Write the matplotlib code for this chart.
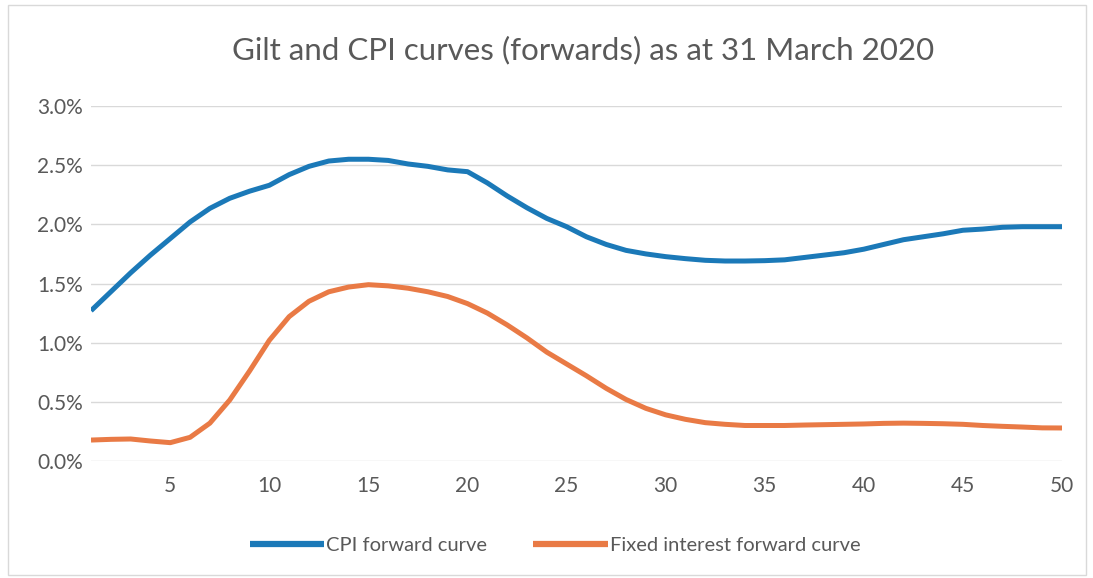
import numpy as np
import matplotlib.pyplot as plt
from matplotlib.patches import Rectangle
from matplotlib.ticker import FuncFormatter

# Maturity (years) 1..50
years = list(range(1, 51))

# CPI forward curve (%)
cpi_forward = [1.27, 1.43, 1.59, 1.74, 1.88, 2.02, 2.135, 2.22, 2.28, 2.33,
               2.42, 2.49, 2.535, 2.55, 2.55, 2.54, 2.51, 2.49, 2.46, 2.445,
               2.35, 2.24, 2.14, 2.05, 1.98, 1.895, 1.83, 1.78, 1.75, 1.727,
               1.71, 1.696, 1.69, 1.69, 1.693, 1.70, 1.72, 1.74, 1.76, 1.79,
               1.83, 1.87, 1.895, 1.92, 1.95, 1.96, 1.975, 1.98, 1.98, 1.98]

# Fixed interest (gilt) forward curve (%)
fixed_forward = [0.177, 0.183, 0.186, 0.169, 0.155, 0.20, 0.32, 0.515, 0.76, 1.02,
                 1.22, 1.35, 1.43, 1.47, 1.49, 1.48, 1.46, 1.43, 1.39, 1.33,
                 1.25, 1.15, 1.04, 0.92, 0.82, 0.72, 0.614, 0.52, 0.445, 0.39,
                 0.352, 0.324, 0.31, 0.30, 0.30, 0.30, 0.304, 0.307, 0.31, 0.313,
                 0.318, 0.32, 0.318, 0.315, 0.31, 0.30, 0.293, 0.287, 0.28, 0.279]

y_ticks = [0.0, 0.5, 1.0, 1.5, 2.0, 2.5, 3.0]
x_ticks = [5, 10, 15, 20, 25, 30, 35, 40, 45, 50]

plt.rcParams['font.family'] = ['Lato', 'DejaVu Sans']
text_grey = '#595959'

fig = plt.figure(figsize=(10.93, 5.78), dpi=100)
ax = fig.add_axes([91 / 1093, 117 / 578, (1062 - 91) / 1093, (461 - 106) / 578])

ax.plot(years, cpi_forward, color='#1b79b8', linewidth=3.6,
        solid_capstyle='butt', solid_joinstyle='round',
        label='CPI forward curve', zorder=3)
ax.plot(years, fixed_forward, color='#e97a45', linewidth=3.6,
        solid_capstyle='butt', solid_joinstyle='round',
        label='Fixed interest forward curve', zorder=3)

ax.set_xlim(1, 50)
ax.set_ylim(0, 3.0)
ax.set_xticks(x_ticks)
ax.set_yticks(y_ticks)
ax.yaxis.set_major_formatter(FuncFormatter(lambda v, p: f'{v:.1f}%'))
ax.tick_params(axis='both', length=0, labelsize=15, labelcolor=text_grey)
ax.tick_params(axis='x', pad=11)
ax.tick_params(axis='y', pad=6)
ax.grid(axis='y', color='#d9d9d9', linewidth=1)
ax.set_axisbelow(True)
for s in ax.spines.values():
    s.set_visible(False)

fig.text(583 / 1093, 1 - 50 / 578, 'Gilt and CPI curves (forwards) as at 31 March 2020',
         ha='center', va='center', fontsize=22.5, color=text_grey)

leg = fig.legend(loc='center', bbox_to_anchor=(555 / 1093, 1 - 545 / 578), ncol=2,
                 frameon=False, fontsize=14.5, handlelength=3.7, handletextpad=0.1,
                 columnspacing=2.3, labelcolor=text_grey)
for line in leg.get_lines():
    line.set_linewidth(4.5)

# chart area border
fig.patches.append(Rectangle((8 / 1093, 3 / 578), 1078 / 1093, 570 / 578,
                             transform=fig.transFigure, fill=False,
                             edgecolor='#d9d9d9', linewidth=1))

fig.savefig('out.png', dpi=100)
